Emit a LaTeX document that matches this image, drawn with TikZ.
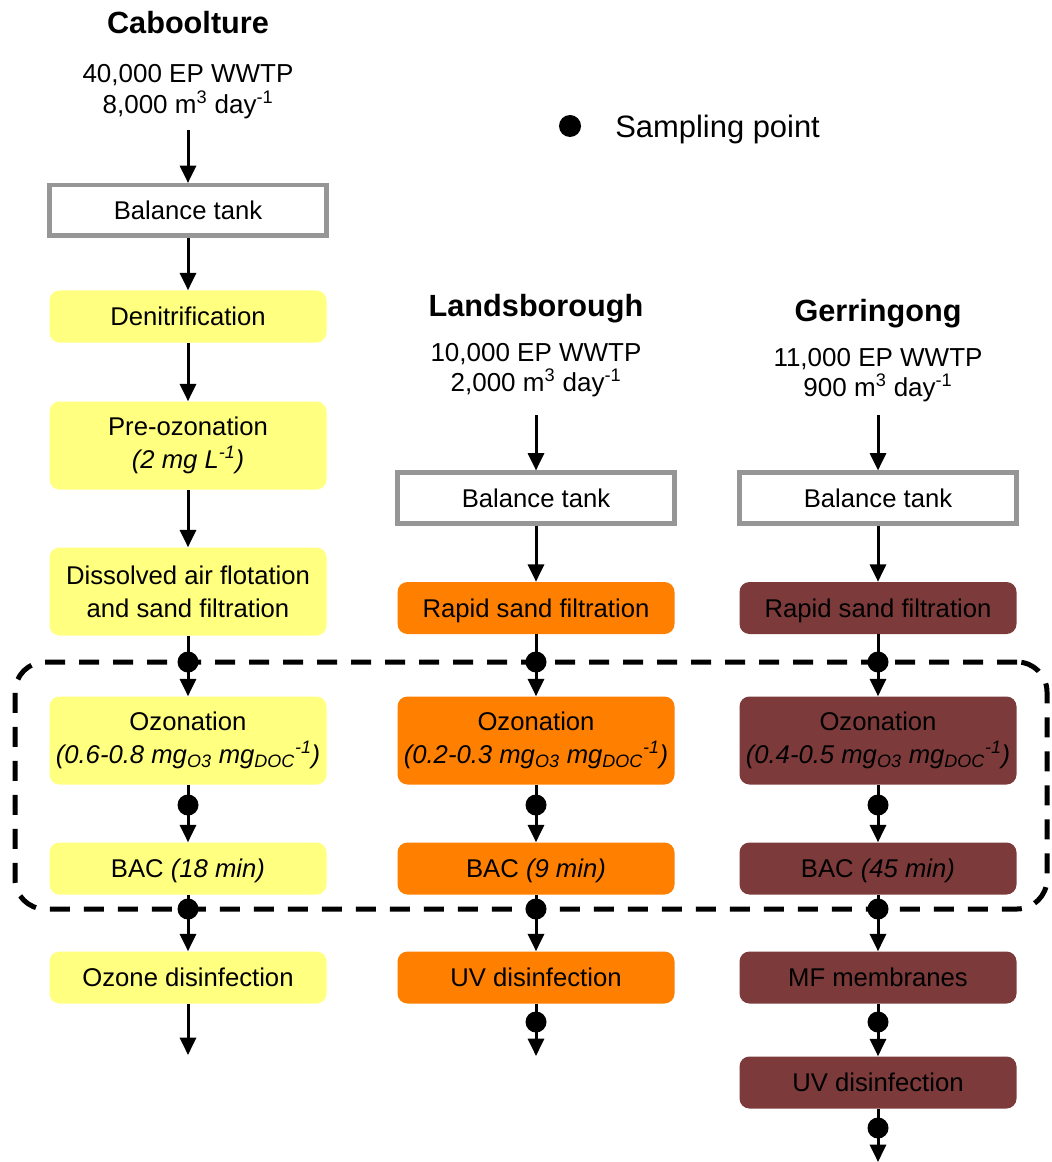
\documentclass[tikz,border=0pt]{standalone}
\usepackage{fontspec}
\setmainfont{Liberation Sans}
\usetikzlibrary{arrows.meta}
\definecolor{boxyellow}{RGB}{255,255,128}
\definecolor{boxorange}{RGB}{255,128,0}
\definecolor{boxmaroon}{RGB}{124,58,58}
\definecolor{tankgray}{RGB}{150,150,150}
\begin{document}
\begin{tikzpicture}[x=0.75pt,y=-0.75pt,
  boxtext/.style={font=\fontsize{19.25}{25}\selectfont},
  proc/.style={rectangle, rounded corners=7.5pt, minimum width=207.75pt, minimum height=39pt, inner sep=0pt, align=center, boxtext},
  single/.style={text height=13.8pt, text depth=0pt},
  tall/.style={minimum height=66pt},
  ylw/.style={proc, fill=boxyellow},
  org/.style={proc, fill=boxorange},
  mrn/.style={proc, fill=boxmaroon},
  tank/.style={rectangle, draw=tankgray, line width=3.4pt, fill=white, minimum width=207.4pt, minimum height=37.9pt, inner sep=0pt, boxtext, single},
  title/.style={font=\bfseries\fontsize{23}{27}\selectfont, text height=16.5pt, text depth=0pt, inner sep=0pt},
  info/.style={font=\fontsize{19.5}{23}\selectfont, text height=14pt, text depth=0pt, inner sep=0pt},
  flow/.style={line width=2.25pt, -{Triangle[length=13pt,width=12pt]}},
  spt/.style={circle, fill=black, minimum size=15.75pt, inner sep=0pt},
  zone/.style={draw, line width=3.75pt, dash pattern=on 15pt off 10.5pt, rounded corners=22.5pt, minimum width=774pt, minimum height=185.25pt, inner sep=0pt}
]
\useasboundingbox (0,0) rectangle (1051,1162);

% dashed region
\node[zone] (region) at (531,785.5) {};

% legend
\node[spt, minimum size=16.5pt] (legdot) at (570,126) {};
\node[font=\fontsize{23.2}{27}\selectfont, anchor=west, inner sep=0pt, text height=16.5pt, text depth=0pt] (legtxt) at (615,127) {Sampling point};

% ---------- Caboolture ----------
\node[title] (t1) at (188,23) {Caboolture};
\node[info] (i1a) at (188,73) {40,000 EP WWTP};
\node[info] (i1b) at (188,104) {8,000 m\textsuperscript{3} day\textsuperscript{-1}};
\node[tank] (bal1) at (188,210.5) {Balance tank};
\node[ylw, single] (den) at (188,316.5) {Denitrification};
\node[ylw, tall] (pre) at (188,445.5) {Pre-ozonation\\\textit{(2 mg L\textsuperscript{-1})}};
\node[ylw, tall] (daf) at (188,591.5) {Dissolved air flotation\\and sand filtration};
\node[ylw, tall] (oz1) at (188,740.5) {Ozonation\\\textit{(0.6-0.8 mg\textsubscript{O3} mg\textsubscript{DOC}\textsuperscript{-1})}};
\node[ylw, single] (bac1) at (188,868.5) {BAC \textit{(18 min)}};
\node[ylw, single] (dis1) at (188,977.5) {Ozone disinfection};
\coordinate (c1src) at (188,130);
\coordinate (c1end) at (188,1055);

% ---------- Landsborough ----------
\node[title] (t2) at (536,305) {Landsborough};
\node[info] (i2a) at (536,352) {10,000 EP WWTP};
\node[info] (i2b) at (536,382) {2,000 m\textsuperscript{3} day\textsuperscript{-1}};
\node[tank] (bal2) at (536,498) {Balance tank};
\node[org, single] (rsf2) at (536,608) {Rapid sand filtration};
\node[org, tall] (oz2) at (536,740.5) {Ozonation\\\textit{(0.2-0.3 mg\textsubscript{O3} mg\textsubscript{DOC}\textsuperscript{-1})}};
\node[org, single] (bac2) at (536,868.5) {BAC \textit{(9 min)}};
\node[org, single] (uv2) at (536,977.5) {UV disinfection};
\coordinate (c2src) at (536,415);
\coordinate (c2end) at (536,1056);

% ---------- Gerringong ----------
\node[title] (t3) at (878,310) {Gerringong};
\node[info] (i3a) at (878,357) {11,000 EP WWTP};
\node[info] (i3b) at (878,387) {900 m\textsuperscript{3} day\textsuperscript{-1}};
\node[tank] (bal3) at (878,498) {Balance tank};
\node[mrn, single] (rsf3) at (878,608) {Rapid sand filtration};
\node[mrn, tall] (oz3) at (878,740.5) {Ozonation\\\textit{(0.4-0.5 mg\textsubscript{O3} mg\textsubscript{DOC}\textsuperscript{-1})}};
\node[mrn, single] (bac3) at (878,868.5) {BAC \textit{(45 min)}};
\node[mrn, single] (mf3) at (878,977.5) {MF membranes};
\node[mrn, single] (uv3) at (878,1082.5) {UV disinfection};
\coordinate (c3src) at (878,415);
\coordinate (c3end) at (878,1162);

% ---------- flows ----------
\draw[flow] (c1src) -- (bal1.north);
\draw[flow] (bal1.south) -- (den.north);
\draw[flow] (den.south) -- (pre.north);
\draw[flow] (pre.south) -- (daf.north);
\draw[flow] (daf.south) -- (oz1.north);
\draw[flow] (oz1.south) -- (bac1.north);
\draw[flow] (bac1.south) -- (dis1.north);
\draw[flow] (dis1.south) -- (c1end);

\draw[flow] (c2src) -- (bal2.north);
\draw[flow] (bal2.south) -- (rsf2.north);
\draw[flow] (rsf2.south) -- (oz2.north);
\draw[flow] (oz2.south) -- (bac2.north);
\draw[flow] (bac2.south) -- (uv2.north);
\draw[flow] (uv2.south) -- (c2end);

\draw[flow] (c3src) -- (bal3.north);
\draw[flow] (bal3.south) -- (rsf3.north);
\draw[flow] (rsf3.south) -- (oz3.north);
\draw[flow] (oz3.south) -- (bac3.north);
\draw[flow] (bac3.south) -- (mf3.north);
\draw[flow] (mf3.south) -- (uv3.north);
\draw[flow] (uv3.south) -- (c3end);

% ---------- sampling points ----------
\node[spt] (p1a) at (188,662) {};
\node[spt] (p1b) at (188,805) {};
\node[spt] (p1c) at (188,909) {};
\node[spt] (p2a) at (536,662) {};
\node[spt] (p2b) at (536,805) {};
\node[spt] (p2c) at (536,909) {};
\node[spt] (p2d) at (536,1022) {};
\node[spt] (p3a) at (878,662) {};
\node[spt] (p3b) at (878,805) {};
\node[spt] (p3c) at (878,909) {};
\node[spt] (p3d) at (878,1022) {};
\node[spt] (p3e) at (878,1128) {};
\end{tikzpicture}
\end{document}
